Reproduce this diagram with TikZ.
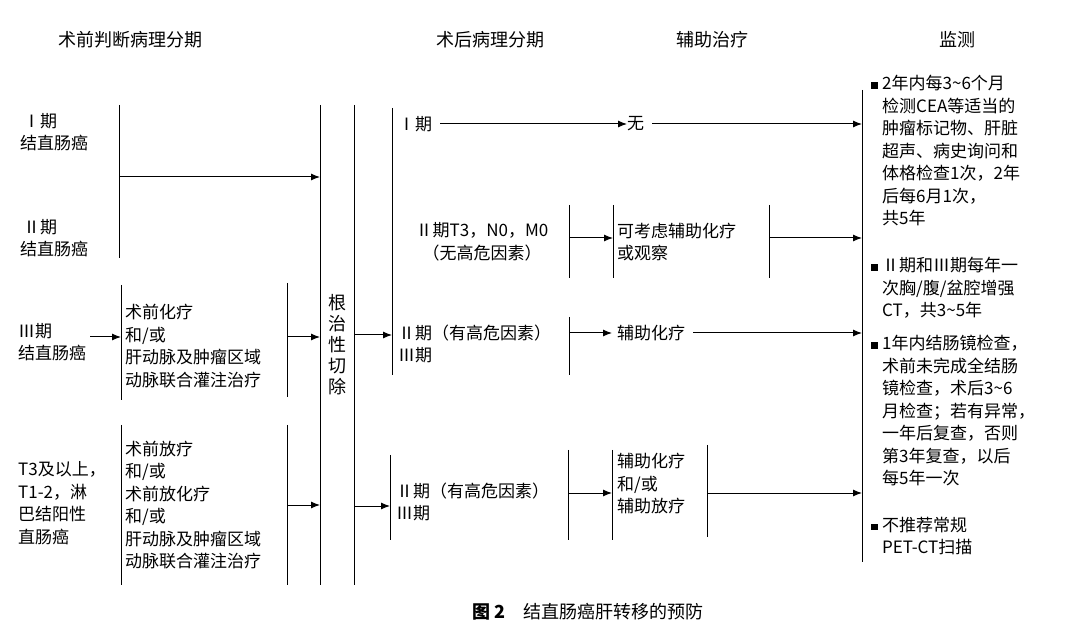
\documentclass[tikz,border=0pt]{standalone}
\usepackage{fontspec}
\setmainfont{Noto Sans CJK SC}
\usetikzlibrary{arrows.meta}
\newcommand{\bul}{\makebox[11pt][l]{\rule[1pt]{6.5pt}{6.5pt}}}
\newcommand{\bsp}{\hspace*{11pt}}
\begin{document}
\begin{tikzpicture}[x=1pt,y=-1pt,
  txt/.style={anchor=west,align=left,inner sep=0pt,font=\fontsize{17}{22.5}\selectfont},
  hd/.style={inner sep=0pt,font=\fontsize{18}{22}\selectfont},
  bar/.style={line width=1pt},
  arr/.style={line width=1pt,-{Latex[length=9pt,width=7pt]}}]
\useasboundingbox[fill=white] (0,0) rectangle (1080,628);
% headers
\node[hd] (h1) at (130,40) {术前判断病理分期};
\node[hd] (h2) at (490,40) {术后病理分期};
\node[hd] (h3) at (712,40) {辅助治疗};
\node[hd] (h4) at (957,40) {监测};
% left labels
\node[txt] (l1) at (20,132) {\,Ⅰ期\\结直肠癌};
\node[txt] (l2) at (20,238) {\,Ⅱ期\\结直肠癌};
\node[txt] (l3) at (18,342) {Ⅲ期\\结直肠癌};
\node[txt] (l4) at (18,503) {T3及以上，\\T1-2，淋\\巴结阳性\\直肠癌};
% left structure
\coordinate (v1t) at (119,105); \coordinate (v1b) at (119,258);
\draw[bar] (v1t) -- (v1b);
\coordinate (a1s) at (119,177);
\draw[bar] (121,285) -- (121,400);
\draw[bar] (287,283) -- (287,397);
\node[txt] (pre1) at (125,346) {术前化疗\\和/或\\肝动脉及肿瘤区域\\动脉联合灌注治疗};
\draw[bar] (121,425) -- (121,585);
\draw[bar] (287,425) -- (287,585);
\node[txt] (pre2) at (125,505) {术前放疗\\和/或\\术前放化疗\\和/或\\肝动脉及肿瘤区域\\动脉联合灌注治疗};
\coordinate (s1) at (320,105); \coordinate (s2) at (320,585);
\draw[bar] (s1) -- (s2);
\draw[bar] (354,105) -- (354,585);
\node[inner sep=0pt,align=center,font=\fontsize{18}{21}\selectfont] (cut) at (337,345) {根\\治\\性\\切\\除};
\draw[arr] (a1s) -- (320,177);
\draw[arr] (l3.east |- 0,337) ++(4,0) -- (121,337);
\draw[arr] (287,337) -- (320,337);
\draw[arr] (287,505) -- (320,505);
% post-op
\draw[arr] (354,335) -- (392,335);
\draw[bar] (392,108) -- (392,375);
\draw[arr] (354,506) -- (390,506);
\draw[bar] (390,455) -- (390,540);
\draw[bar] (862,90) -- (862,562);
\node[txt] (p1) at (398,124) {Ⅰ期};
\node[txt] (n1) at (627,124) {无};
\draw[arr] (p1.east) ++(8,0) -- (n1.west);
\draw[arr] (n1.east) ++(8,0) -- (862,124);
\node[txt,align=center,anchor=center] (p2) at (482,242) {Ⅱ期T3，N0，M0\\（无高危因素）};
\draw[bar] (569,205) -- (569,278);
\draw[bar] (613,205) -- (613,278);
\draw[bar] (769,205) -- (769,278);
\draw[arr] (569,238) -- (613,238);
\node[txt] (t2) at (617,242) {可考虑辅助化疗\\或观察};
\draw[arr] (769,238) -- (862,238);
\node[txt] (p3) at (398,344) {Ⅱ期（有高危因素）\\Ⅲ期};
\draw[bar] (569,317) -- (569,375);
\draw[arr] (569,333) -- (612,333);
\node[txt] (t3) at (617,333) {辅助化疗};
\draw[arr] (t3.east) ++(8,0) -- (862,333);
\node[txt] (p4) at (396,502) {Ⅱ期（有高危因素）\\Ⅲ期};
\draw[bar] (568,450) -- (568,540);
\draw[bar] (612,450) -- (612,540);
\draw[bar] (707,445) -- (707,537);
\draw[arr] (568,493) -- (612,493);
\node[txt] (t4) at (617,484) {辅助化疗\\和/或\\辅助放疗};
\draw[arr] (707,493) -- (862,493);
% monitoring
\node[txt,anchor=north west] (m1) at (871,75) {\bul 2年内每3\textasciitilde6个月\\\bsp 检测CEA等适当的\\\bsp 肿瘤标记物、肝脏\\\bsp 超声、病史询问和\\\bsp 体格检查1次，2年\\\bsp 后每6月1次，\\\bsp 共5年};
\node[txt,anchor=north west] (m2) at (871,257) {\bul Ⅱ期和Ⅲ期每年一\\\bsp 次胸/腹/盆腔增强\\\bsp CT，共3\textasciitilde5年};
\node[txt,anchor=north west] (m3) at (871,335) {\bul 1年内结肠镜检查，\\\bsp 术前未完成全结肠\\\bsp 镜检查，术后3\textasciitilde6\\\bsp 月检查；若有异常，\\\bsp 一年后复查，否则\\\bsp 第3年复查，以后\\\bsp 每5年一次};
\node[txt,anchor=north west] (m4) at (871,517) {\bul 不推荐常规\\\bsp PET-CT扫描};
\node[hd] (cap) at (588,612) {\textbf{图 2}\quad 结直肠癌肝转移的预防};
\end{tikzpicture}
\end{document}
